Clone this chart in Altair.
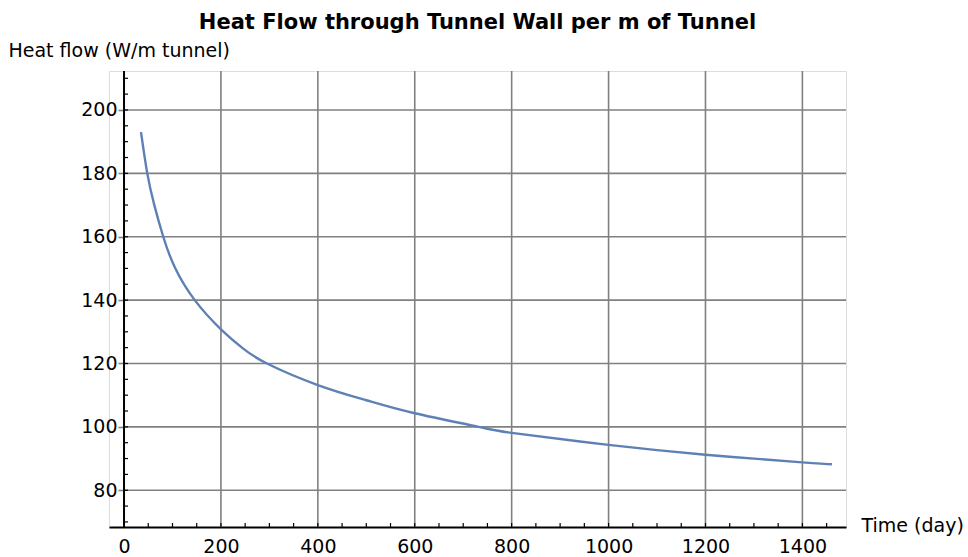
import altair as alt
import pandas as pd

# Heat flow through the tunnel wall over time (per metre of tunnel)
days = [35, 48, 62, 81, 105, 146, 200, 246, 295, 400, 500, 600, 732, 800, 1000, 1200, 1400, 1461]
heat_flow = [193.0, 180.0, 170.3, 160.0, 150.3, 140.0, 130.8, 124.7, 120.0, 113.2, 108.4,
             104.3, 100.0, 98.1, 94.3, 91.2, 88.8, 88.2]

x_labels = [0, 200, 400, 600, 800, 1000, 1200, 1400]
y_labels = [80, 100, 120, 140, 160, 180, 200]
x_minor = list(range(50, 1500, 50))
y_minor = list(range(70, 215, 5))

X_MIN, X_MAX = -31, 1490
Y_MIN, Y_MAX = 68.4, 212.3

FONT = "DejaVu Sans"
FS = 19
GRID = "#808080"
LINE = "#5E81B5"

xs = alt.Scale(domain=[X_MIN, X_MAX], nice=False, zero=False)
ys = alt.Scale(domain=[Y_MIN, Y_MAX], nice=False, zero=False)

# The same axis definitions are shared by every layer so they merge cleanly
xa = alt.Axis(
    values=x_labels, format="d", ticks=False, tickSize=0, grid=False,
    domain=True, domainColor="black", domainWidth=2,
    labelFont=FONT, labelFontSize=FS, labelColor="black",
    labelBaseline="alphabetic", labelPadding=25, labelFlush=False,
    title="Time (day)", titleFont=FONT, titleFontSize=FS,
    titleFontWeight="normal", titleColor="black",
    titleAngle=0, titleAlign="left", titleBaseline="middle",
    titleX=752, titleY=-2,
)
ya = alt.Axis(
    values=y_labels, format="d", ticks=True, tickColor=GRID, tickSize=6, tickWidth=1.6,
    grid=False, domain=False, offset=-15,
    labelFont=FONT, labelFontSize=FS, labelColor="black",
    labelPadding=1, labelFlush=False,
    title="Heat flow (W/m tunnel)", titleFont=FONT, titleFontSize=FS,
    titleFontWeight="normal", titleColor="black",
    titleAngle=0, titleAlign="left", titleBaseline="alphabetic",
    titleX=-116, titleY=-15,
)

curve = pd.DataFrame({"day": days, "q": heat_flow})

vgrid = alt.Chart(pd.DataFrame({"v": x_labels[1:]})).mark_rule(
    color=GRID, strokeWidth=1.6
).encode(x=alt.X("v:Q", scale=xs, axis=xa))

hgrid = alt.Chart(pd.DataFrame({"v": y_labels})).mark_rule(
    color=GRID, strokeWidth=1.6
).encode(
    y=alt.Y("v:Q", scale=ys, axis=ya),
    x=alt.datum(0, scale=xs, axis=xa),
    x2=alt.datum(X_MAX),
)

line = alt.Chart(curve).mark_line(
    color=LINE, strokeWidth=2.4, interpolate="natural"
).encode(
    x=alt.X("day:Q", scale=xs, axis=xa),
    y=alt.Y("q:Q", scale=ys, axis=ya),
)

y_axis_line = alt.Chart(pd.DataFrame({"v": [0]})).mark_rule(
    color="black", strokeWidth=2
).encode(x=alt.X("v:Q", scale=xs, axis=xa))

x_ticks = alt.Chart(pd.DataFrame({"v": x_minor})).mark_rule(
    color="black", strokeWidth=1.2, y2Offset=-4
).encode(
    x=alt.X("v:Q", scale=xs, axis=xa),
    y=alt.datum(Y_MIN, scale=ys, axis=ya),
    y2=alt.datum(Y_MIN),
)

y_ticks = alt.Chart(pd.DataFrame({"v": y_minor})).mark_rule(
    color="black", strokeWidth=1.2, x2Offset=4
).encode(
    y=alt.Y("v:Q", scale=ys, axis=ya),
    x=alt.datum(0, scale=xs, axis=xa),
    x2=alt.datum(0),
)

chart = alt.layer(vgrid, hgrid, line, y_axis_line, x_ticks, y_ticks).properties(
    width=737,
    height=456,
    title=alt.TitleParams(
        "Heat Flow through Tunnel Wall per m of Tunnel",
        font=FONT, fontSize=21, fontWeight="bold", color="black",
        anchor="middle", frame="group", baseline="alphabetic", offset=-9,
    ),
    autosize=alt.AutoSizeParams(type="none"),
    padding={"left": 109, "top": 71, "right": 122, "bottom": 30},
).configure_view(strokeOpacity=0).configure(background="white")

chart.save("out.html", embed_options={"renderer": "svg", "actions": False})
